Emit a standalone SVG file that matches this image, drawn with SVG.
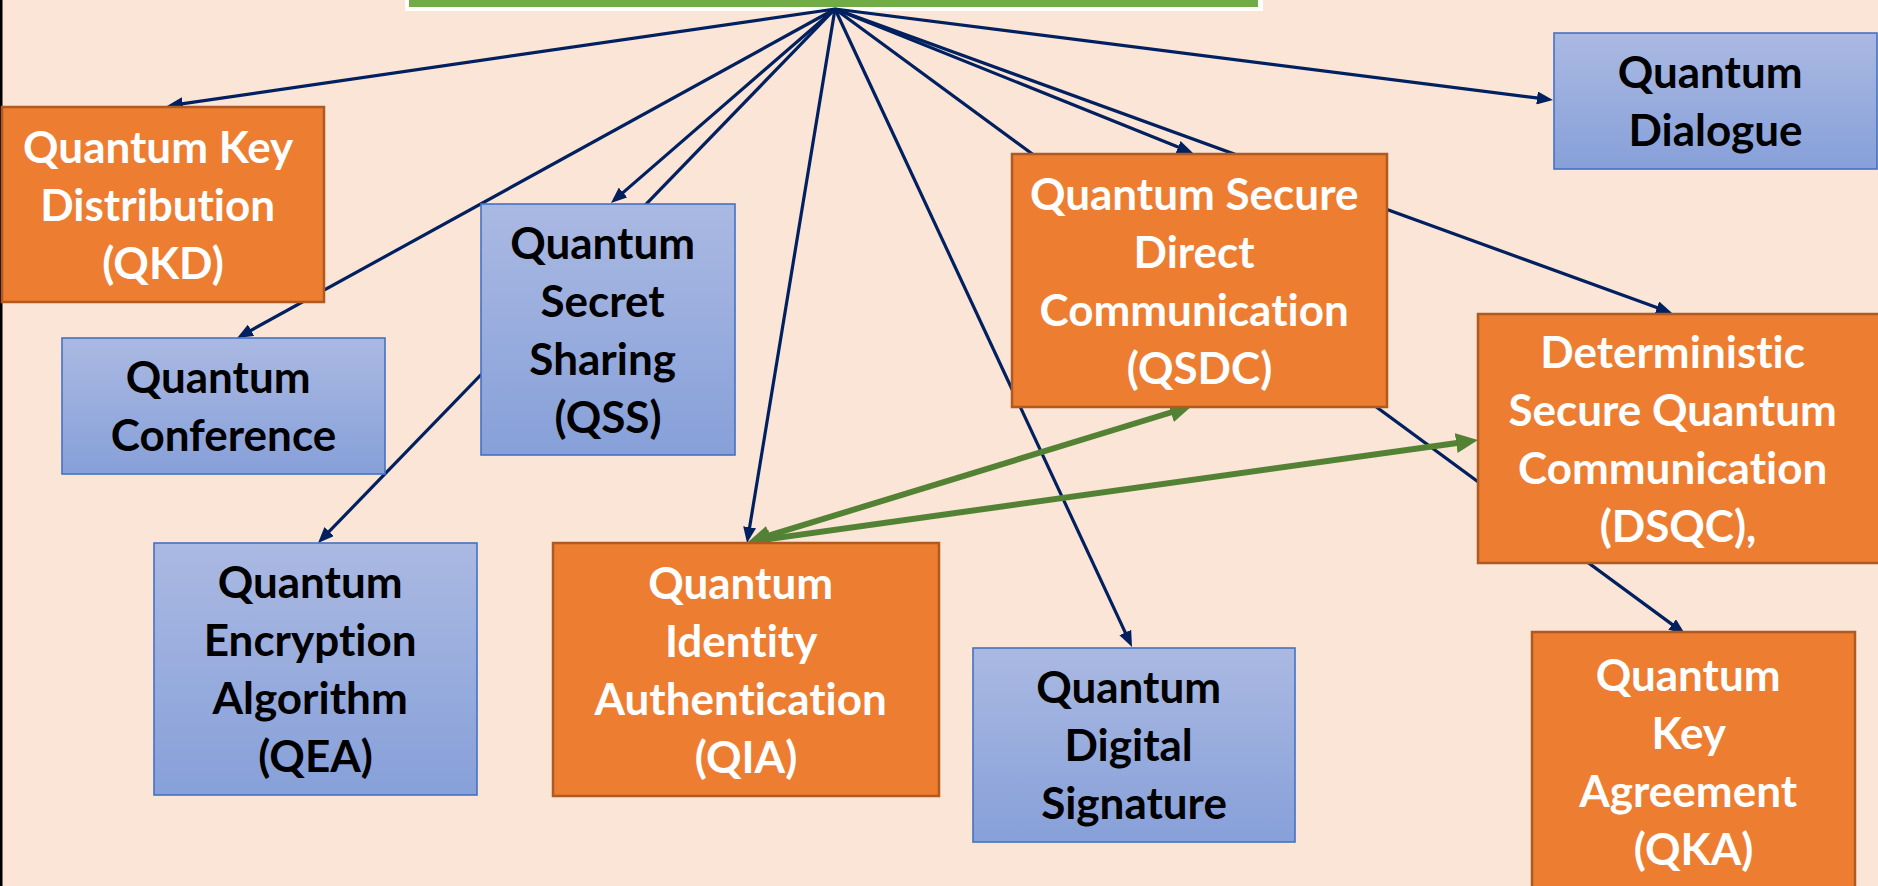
<svg xmlns="http://www.w3.org/2000/svg" width="1878" height="886" viewBox="0 0 1878 886">
  <style>
    .org rect { fill: #ED7D31; stroke: #AE5A21; stroke-width: 2.5; }
    .blu rect { fill: url(#blueGrad); stroke: #4472C4; stroke-width: 1.6; }
    .lbl { font-family: Lato, "Liberation Sans", sans-serif; font-weight: 700; font-size: 44px; text-anchor: middle; font-variant-ligatures: none; font-feature-settings: "liga" 0, "clig" 0; }
    .org text { fill: #FFFFFF; }
    .blu text { fill: #000000; }
    .navy { stroke: #002060; stroke-width: 3.2; fill: none; marker-end: url(#navyHead); }
    .green { stroke: #548235; stroke-width: 6; fill: none; marker-start: url(#greenHead); marker-end: url(#greenHead); }
  </style>
  <defs>
    <linearGradient id="blueGrad" x1="0" y1="0" x2="0" y2="1">
      <stop offset="0" stop-color="#AAB9E2"/>
      <stop offset="1" stop-color="#87A0D9"/>
    </linearGradient>
    <marker id="navyHead" viewBox="0 0 16 13" markerWidth="16" markerHeight="13" refX="10" refY="6.5" orient="auto" markerUnits="userSpaceOnUse">
      <path d="M0,0 L16,6.5 L0,13 z" fill="#002060"/>
    </marker>
    <marker id="greenHead" viewBox="0 0 22 20" markerWidth="22" markerHeight="20" refX="10" refY="10" orient="auto-start-reverse" markerUnits="userSpaceOnUse">
      <path d="M0,0 L22,10 L0,20 z" fill="#548235"/>
    </marker>
  </defs>

  <!-- page background and left frame edge -->
  <rect x="0" y="0" width="1878" height="886" fill="#FBE5D6"/>
  <rect x="0" y="0" width="2.5" height="886" fill="#000000"/>

  <!-- root box (top edge only visible) -->
  <g id="root">
    <rect x="405" y="-10" width="858" height="21" fill="#FFFFFF"/>
    <rect x="409" y="-10" width="849" height="17" fill="#70AD47"/>
  </g>

  <g id="connectors">
    <path class="navy" d="M835,9 L172.9,105.1"/>
    <path class="navy" d="M835,9 L242.3,335.1"/>
    <path class="navy" d="M835,9 L615.5,199.1"/>
    <path class="navy" d="M835,9 L322.2,538.7"/>
    <path class="navy" d="M835,9 L748,537.1"/>
    <path class="navy" d="M835,9 L1129.5,641.6"/>
    <path class="navy" d="M835,9 L1187.4,150.8"/>
    <path class="navy" d="M835,9 L1666.4,311"/>
    <path class="navy" d="M835,9 L1680.2,630.4"/>
    <path class="navy" d="M835,9 L1547,99.2"/>
    <path class="green" d="M759.5,538.5 L1180.5,409.5"/>
    <path class="green" d="M759.9,540.3 L1466.1,441.7"/>
  </g>

  <g id="qkd" class="org">
    <rect x="2" y="107" width="322" height="195"/>
    <text class="lbl" x="163" y="162.5">
      <tspan x="163">Quantum Key</tspan>
      <tspan x="163" dy="58">Distribution</tspan>
      <tspan x="163" dy="58">(QKD)</tspan>
    </text>
  </g>

  <g id="conference" class="blu">
    <rect x="62" y="338" width="323" height="136"/>
    <text class="lbl" x="223.5" y="393">
      <tspan x="223.5">Quantum</tspan>
      <tspan x="223.5" dy="58">Conference</tspan>
    </text>
  </g>

  <g id="qss" class="blu">
    <rect x="481" y="204" width="254" height="251"/>
    <text class="lbl" x="608" y="258.5">
      <tspan x="608">Quantum</tspan>
      <tspan x="608" dy="58">Secret</tspan>
      <tspan x="608" dy="58">Sharing</tspan>
      <tspan x="608" dy="58">(QSS)</tspan>
    </text>
  </g>

  <g id="qea" class="blu">
    <rect x="154" y="543" width="323" height="252"/>
    <text class="lbl" x="315.5" y="598">
      <tspan x="315.5">Quantum</tspan>
      <tspan x="315.5" dy="58">Encryption</tspan>
      <tspan x="315.5" dy="58">Algorithm</tspan>
      <tspan x="315.5" dy="58">(QEA)</tspan>
    </text>
  </g>

  <g id="qia" class="org">
    <rect x="553" y="543" width="386" height="253"/>
    <text class="lbl" x="746" y="598.5">
      <tspan x="746">Quantum</tspan>
      <tspan x="746" dy="58">Identity</tspan>
      <tspan x="746" dy="58">Authentication</tspan>
      <tspan x="746" dy="58">(QIA)</tspan>
    </text>
  </g>

  <g id="qds" class="blu">
    <rect x="973" y="648" width="322" height="194"/>
    <text class="lbl" x="1134" y="703">
      <tspan x="1134">Quantum</tspan>
      <tspan x="1134" dy="58">Digital</tspan>
      <tspan x="1134" dy="58">Signature</tspan>
    </text>
  </g>

  <g id="qsdc" class="org">
    <rect x="1012" y="154" width="375" height="253"/>
    <text class="lbl" x="1199.5" y="209.5">
      <tspan x="1199.5">Quantum Secure</tspan>
      <tspan x="1199.5" dy="58">Direct</tspan>
      <tspan x="1199.5" dy="58">Communication</tspan>
      <tspan x="1199.5" dy="58">(QSDC)</tspan>
    </text>
  </g>

  <g id="qd" class="blu">
    <rect x="1554" y="33" width="323" height="136"/>
    <text class="lbl" x="1715.5" y="88">
      <tspan x="1715.5">Quantum</tspan>
      <tspan x="1715.5" dy="58">Dialogue</tspan>
    </text>
  </g>

  <g id="dsqc" class="org">
    <rect x="1478" y="314" width="404" height="249"/>
    <text class="lbl" x="1678" y="367.5">
      <tspan x="1678">Deterministic</tspan>
      <tspan x="1678" dy="58">Secure Quantum</tspan>
      <tspan x="1678" dy="58">Communication</tspan>
      <tspan x="1678" dy="58">(DSQC),</tspan>
    </text>
  </g>

  <g id="qka" class="org">
    <rect x="1532" y="632" width="323" height="262"/>
    <text class="lbl" x="1693.5" y="691">
      <tspan x="1693.5">Quantum</tspan>
      <tspan x="1693.5" dy="58">Key</tspan>
      <tspan x="1693.5" dy="58">Agreement</tspan>
      <tspan x="1693.5" dy="58">(QKA)</tspan>
    </text>
  </g>
</svg>
